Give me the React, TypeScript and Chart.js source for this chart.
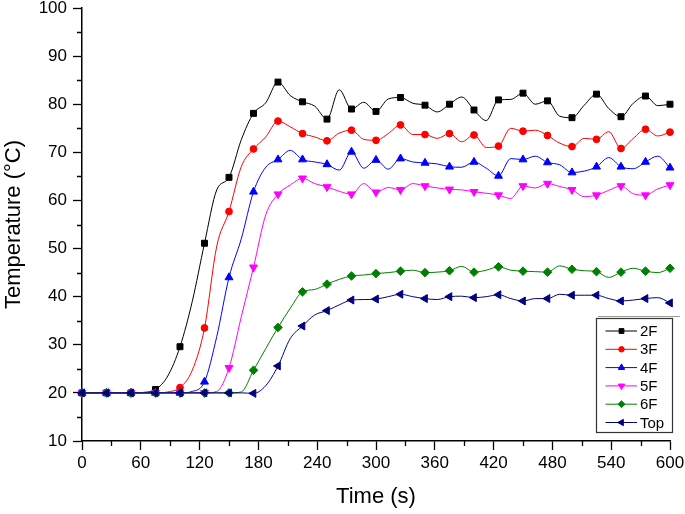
import React, { useEffect, useRef } from 'react';
import { Chart, registerables } from 'chart.js';
import { drawPoint } from 'chart.js/helpers';

Chart.register(...registerables);

// ---------- data ----------
const times = [0, 12.5, 25, 37.5, 50, 62.5, 75, 87.5, 100, 112.5, 125, 137.5, 150, 162.5, 175, 187.5, 200, 212.5, 225, 237.5, 250, 262.5, 275, 287.5, 300, 312.5, 325, 337.5, 350, 362.5, 375, 387.5, 400, 412.5, 425, 437.5, 450, 462.5, 475, 487.5, 500, 512.5, 525, 537.5, 550, 562.5, 575, 587.5, 600];

const series2F = [20, 20, 20, 20, 20, 20.1, 20.7, 23.5, 29.6, 39, 51.1, 62.2, 64.8, 72.6, 78.1, 80.3, 84.6, 81.8, 80.5, 79.6, 76.9, 83.0, 79.0, 80.4, 78.5, 81.1, 81.4, 80.2, 79.8, 78.4, 80.0, 81.5, 78.8, 76.6, 80.9, 81.0, 82.3, 80.0, 80.7, 77.5, 77.2, 79.8, 82.1, 79.1, 77.4, 80.2, 81.7, 79.7, 80.0];
const series3F = [20, 20, 20, 20, 20, 20, 20, 20.2, 21.1, 24.7, 33.5, 50.5, 57.7, 67, 70.7, 73.2, 76.5, 75.3, 73.9, 73.2, 72.4, 74.0, 74.6, 72.7, 72.5, 73.9, 75.7, 73.7, 73.7, 72.9, 73.9, 72.2, 73.6, 71.0, 71.3, 75.0, 74.4, 74.6, 73.5, 71.9, 71.2, 72.9, 72.7, 74.3, 70.8, 72.9, 74.8, 73.4, 74.2];
const series4F = [20, 20, 20, 20, 20, 20, 20, 20, 20, 20.3, 22.3, 31.7, 44.0, 52, 61.8, 66.9, 68.5, 70.4, 68.5, 68.0, 67.5, 66.3, 70.1, 66.7, 68.4, 66.5, 68.7, 68.0, 67.8, 67.6, 67.0, 66.9, 68.0, 66.7, 65.1, 68.7, 68.5, 69.2, 67.9, 67.4, 65.8, 66.1, 67.0, 68.9, 67.0, 66.6, 68.0, 69.2, 66.8];
const series5F = [20, 20, 20, 20, 20, 20, 20, 20, 20, 20, 20, 20.3, 25.2, 35.8, 46.1, 57, 61.3, 63.2, 64.6, 63.5, 62.8, 61.9, 61.3, 63.5, 61.7, 62.7, 62.2, 63.5, 63.0, 62.6, 62.3, 62.2, 61.8, 61.5, 61.1, 60.4, 63.0, 62.6, 63.5, 62.9, 62.2, 60.8, 61.1, 62.1, 63.0, 61.4, 61.1, 62.4, 63.2];
const series6F = [20, 20, 20, 20, 20, 20, 20, 20, 20, 20, 20, 20, 20, 20.2, 24.7, 29.2, 33.6, 37.6, 41.0, 41.5, 42.6, 43.6, 44.3, 44.5, 44.8, 45.0, 45.3, 45.5, 45.0, 45.1, 45.4, 46.3, 45.1, 45.5, 46.2, 45.5, 45.3, 45.2, 45.1, 46.4, 45.7, 45.4, 45.2, 44.0, 45.1, 45.9, 45.3, 45.0, 45.9];
const seriesTop = [20, 20, 20, 20, 20, 20, 20, 20, 20, 20, 20, 20, 20, 20, 19.9, 21.5, 25.6, 31.3, 33.9, 36.2, 37.1, 38.3, 39.3, 39.4, 39.5, 40.0, 40.5, 40.0, 39.6, 39.4, 40.0, 40.1, 39.8, 40.0, 40.4, 39.6, 39.1, 39.6, 39.6, 40.5, 40.3, 40.3, 40.3, 39.6, 39.1, 39.3, 39.6, 39.8, 38.7];

const seriesNames = ['2F', '3F', '4F', '5F', '6F', 'Top'];
const seriesValues = [series2F, series3F, series4F, series5F, series6F, seriesTop];

const xMajorTicks = [0, 60, 120, 180, 240, 300, 360, 420, 480, 540, 600];
const xMinorTicks = [30, 90, 150, 210, 270, 330, 390, 450, 510, 570];
const yMajorTicks = [10, 20, 30, 40, 50, 60, 70, 80, 90, 100];
const yMinorTicks = [15, 25, 35, 45, 55, 65, 75, 85, 95];

// ---------- styles ----------
const colors = ['#000000', '#ff0000', '#0000ff', '#ff00ff', '#008000', '#000080'];
const pointStyles = ['rect', 'circle', 'triangle', 'triangle', 'rectRot', 'triangle'];
const rotations = [0, 0, 0, 180, 0, -90];
const radii = [4.2, 3.4, 4.6, 4.6, 4.3, 4.6];

const FONT = "'Liberation Sans', Arial, Helvetica, sans-serif";

const minorTicksPlugin = {
  id: 'minorTicks',
  afterDraw(chart: any) {
    const { ctx, scales, chartArea } = chart;
    ctx.save();
    ctx.strokeStyle = '#000';
    ctx.lineWidth = 1.3;
    ctx.beginPath();
    yMinorTicks.forEach((v) => {
      const y = Math.round(scales.y.getPixelForValue(v)) + 0.5;
      ctx.moveTo(chartArea.left - 5, y);
      ctx.lineTo(chartArea.left, y);
    });
    xMinorTicks.forEach((v) => {
      const x = Math.round(scales.x.getPixelForValue(v)) + 0.5;
      ctx.moveTo(x, chartArea.bottom);
      ctx.lineTo(x, chartArea.bottom + 5);
    });
    ctx.stroke();
    ctx.restore();
  },
};

const legendPlugin = {
  id: 'boxLegend',
  afterDraw(chart: any) {
    const { ctx, chartArea } = chart;
    const w = 76;
    const h = 114;
    const right = chartArea.right + 2;
    const bottom = chartArea.bottom - 9;
    const left = right - w;
    const top = bottom - h;
    ctx.save();
    ctx.fillStyle = '#ffffff';
    ctx.fillRect(left, top, w, h);
    ctx.strokeStyle = '#9a9a9a';
    ctx.lineWidth = 1;
    ctx.beginPath();
    ctx.moveTo(left + 2, top - 1.5);
    ctx.lineTo(right + 8, top - 1.5);
    ctx.stroke();
    ctx.strokeStyle = '#333333';
    ctx.lineWidth = 1.2;
    ctx.strokeRect(left + 0.5, top + 0.5, w, h);
    const rowH = 18.3;
    chart.data.datasets.forEach((ds: any, i: number) => {
      const y = top + 13 + i * rowH;
      ctx.strokeStyle = ds.borderColor;
      ctx.lineWidth = 1;
      ctx.beginPath();
      ctx.moveTo(left + 9.5, y);
      ctx.lineTo(left + 41, y);
      ctx.stroke();
      ctx.fillStyle = ds.pointBackgroundColor;
      ctx.strokeStyle = ds.pointBorderColor;
      drawPoint(ctx, {
        pointStyle: ds.pointStyle,
        rotation: ds.pointRotation,
        radius: (ds.legendRadius as number) * 0.8,
        borderWidth: 1,
      }, left + 25.5, y);
      ctx.fillStyle = '#000';
      ctx.font = `15px ${FONT}`;
      ctx.textBaseline = 'middle';
      ctx.textAlign = 'left';
      ctx.fillText(ds.label, left + 44, y + 1);
    });
    ctx.restore();
  },
};

export default function App() {
  const canvasRef = useRef<HTMLCanvasElement | null>(null);

  useEffect(() => {
    const canvas = canvasRef.current;
    if (!canvas) return;
    const datasets = seriesNames.map((name, i) => ({
      label: name,
      data: times.map((t, j) => ({ x: t, y: seriesValues[i][j] })),
      borderColor: colors[i],
      backgroundColor: colors[i],
      pointBackgroundColor: colors[i],
      pointBorderColor: colors[i],
      borderWidth: 1,
      pointBorderWidth: 1,
      pointStyle: pointStyles[i],
      pointRotation: rotations[i],
      legendRadius: radii[i],
      pointRadius: (c: any) => (c.dataIndex % 2 === 0 ? radii[i] : 0),
      pointHoverRadius: 0,
      cubicInterpolationMode: 'monotone',
      fill: false,
      clip: false,
      order: seriesNames.length - i,
    }));

    const chart = new Chart(canvas, {
      type: 'line',
      data: { datasets } as any,
      options: {
        responsive: false,
        animation: false,
        events: [],
        layout: { padding: { top: 8, right: 15, bottom: 0, left: 0 } },
        plugins: {
          legend: { display: false },
          tooltip: { enabled: false },
        },
        scales: {
          x: {
            type: 'linear',
            min: 0,
            max: 600,
            afterBuildTicks: (s: any) => {
              s.ticks = xMajorTicks.map((v) => ({ value: v }));
            },
            afterFit: (s: any) => {
              s.height = 73;
              s.paddingLeft = 0;
              s.paddingRight = 0;
            },
            border: { display: true, color: '#000', width: 1.5 },
            grid: {
              display: true,
              drawOnChartArea: false,
              drawTicks: true,
              tickLength: 9,
              tickColor: '#000',
              tickWidth: 1.3,
            },
            ticks: {
              color: '#000',
              font: { family: FONT, size: 17 },
              padding: 3,
              maxRotation: 0,
              autoSkip: false,
            },
            title: {
              display: true,
              text: 'Time (s)',
              color: '#000',
              font: { family: FONT, size: 22 },
              padding: { top: 0, bottom: 4 },
            },
          },
          y: {
            type: 'linear',
            min: 10,
            max: 100,
            afterBuildTicks: (s: any) => {
              s.ticks = yMajorTicks.map((v) => ({ value: v }));
            },
            afterFit: (s: any) => {
              s.width = 82;
              s.paddingTop = 0;
              s.paddingBottom = 0;
            },
            border: { display: true, color: '#000', width: 1.5 },
            grid: {
              display: true,
              drawOnChartArea: false,
              drawTicks: true,
              tickLength: 9,
              tickColor: '#000',
              tickWidth: 1.3,
            },
            ticks: {
              color: '#000',
              font: { family: FONT, size: 17 },
              padding: 6,
              autoSkip: false,
            },
            title: {
              display: true,
              text: 'Temperature (°C)',
              color: '#000',
              font: { family: FONT, size: 22 },
              padding: { top: 1, bottom: 0 },
            },
          },
        },
      } as any,
      plugins: [minorTicksPlugin, legendPlugin],
    });

    return () => {
      chart.destroy();
    };
  }, []);

  return (
    <div style={{ position: 'absolute', left: 0, top: 0, width: 685, height: 514, background: '#fff' }}>
      <canvas ref={canvasRef} width={685} height={514} style={{ display: 'block' }} />
    </div>
  );
}
